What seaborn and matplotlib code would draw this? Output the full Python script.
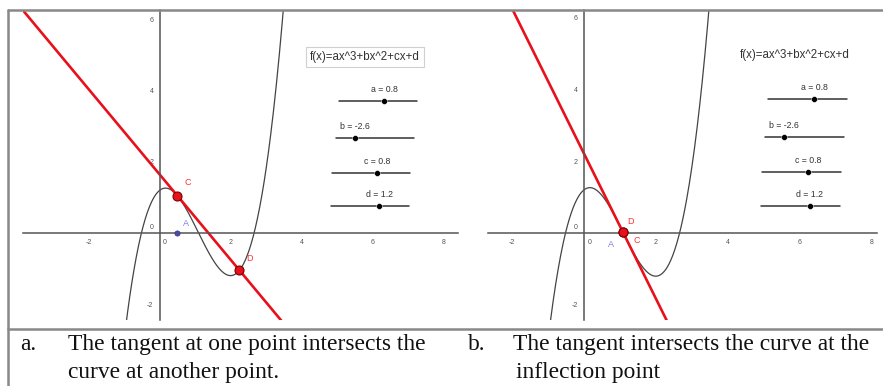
import numpy as np
import pandas as pd
import matplotlib.pyplot as plt
from matplotlib.lines import Line2D
from matplotlib.transforms import ScaledTranslation
import seaborn as sns

sns.set_style('white')
plt.rcParams['font.family'] = ['Liberation Sans', 'DejaVu Sans']
plt.rcParams['axes.unicode_minus'] = False

# slider values of f(x)=ax^3+bx^2+cx+d
coef_names = ['a', 'b', 'c', 'd']
coef_values = [0.8, -2.6, 0.8, 1.2]
slider_range = (-5, 5)

# x of the tangent point in each panel (b: inflection point)
tangent_x = [0.5, 13 / 12]
x_ticks = [-2, 0, 2, 4, 6, 8]
y_ticks = [-2, 0, 2, 4, 6]

captions = [
    ('a.', 'The tangent at one point intersects the', 'curve at another point.'),
    ('b.', 'The tangent intersects the curve at the', 'inflection point'),
]

W, H = 883, 386
fig = plt.figure(figsize=(W / 100, H / 100), dpi=100)


def px_axes(x0, y0, x1, y1):
    return fig.add_axes([x0 / W, 1 - y1 / H, (x1 - x0) / W, (y1 - y0) / H])


def f(x):
    a, b, c, d = coef_values
    return a * x**3 + b * x**2 + c * x + d


def fprime(x):
    a, b, c, d = coef_values
    return 3 * a * x**2 + 2 * b * x + c


# panel layout: pixel box, limits, slider starts, formula pos, label offsets
panels = [
    dict(box=(23, 10, 458, 320), xlim=(-3.85, 8.41), ylim=(-2.45, 6.28),
         slider_x0=[5.06, 4.97, 4.86, 4.83], formula=(4.24, 4.96), boxed=True,
         offs={'C': (5, 8), 'D': (5, 7), 'A': (4, 5)}),
    dict(box=(488, 10, 877, 320), xlim=(-2.67, 8.16), ylim=(-2.42, 6.21),
         slider_x0=[5.13, 5.04, 4.96, 4.93], formula=(4.35, 4.96), boxed=False,
         offs={'C': (8, -8), 'D': (3, 6), 'A': (-11, -10)}),
]
slider_y = [3.72, 2.68, 1.69, 0.76]
slider_len = 2.2

for p, x0 in zip(panels, tangent_x):
    ax = px_axes(*p['box'])
    ax.set_xlim(*p['xlim'])
    ax.set_ylim(*p['ylim'])

    # axes through the origin
    for s in ['top', 'right']:
        ax.spines[s].set_visible(False)
    for s in ['left', 'bottom']:
        ax.spines[s].set_position('zero')
        ax.spines[s].set_color('#555555')
        ax.spines[s].set_linewidth(1.1)
    ax.set_xticks(x_ticks)
    ax.set_yticks(y_ticks)
    ax.tick_params(direction='out', length=2.5, width=0.8, color='#555555',
                   labelsize=5, labelcolor='#555555', pad=2)
    # shift the two "0" labels off the axes, GeoGebra style
    lx = ax.xaxis.get_major_ticks()[1].label1
    lx.set_transform(lx.get_transform() + ScaledTranslation(4 / 72, 0, fig.dpi_scale_trans))
    ly = ax.yaxis.get_major_ticks()[1].label1
    ly.set_transform(ly.get_transform() + ScaledTranslation(0, 5 / 72, fig.dpi_scale_trans))

    # cubic curve
    xs = np.linspace(p['xlim'][0], p['xlim'][1], 600)
    curve = pd.DataFrame({'x': xs, 'y': f(xs)})
    sns.lineplot(data=curve, x='x', y='y', ax=ax, color='#444444', linewidth=0.9,
                 sort=False)

    # tangent line
    m = fprime(x0)
    tang = pd.DataFrame({'x': xs, 'y': f(x0) + m * (xs - x0)})
    sns.lineplot(data=tang, x='x', y='y', ax=ax, color='#e8101a', linewidth=1.9,
                 sort=False)

    # points C (tangency), D (second intersection), A (on x-axis)
    a, b = coef_values[0], coef_values[1]
    x1 = -b / a - 2 * x0
    pts = pd.DataFrame({'name': ['C', 'D'], 'x': [x0, x1], 'y': [f(x0), f(x1)]})
    ptA = pd.DataFrame({'x': [x0], 'y': [0.0]})
    sns.scatterplot(data=ptA, x='x', y='y', ax=ax, color='#4b4ba8', s=14,
                    edgecolor='#33337a', linewidth=0.5, zorder=5)
    sns.scatterplot(data=pts, x='x', y='y', ax=ax, color='#e8101a', s=42,
                    edgecolor='#7a0000', linewidth=0.8, zorder=6)
    for name, px_, py_ in zip(pts['name'], pts['x'], pts['y']):
        ax.annotate(name, (px_, py_), xytext=p['offs'][name], textcoords='offset points',
                    color='#ff3030', fontsize=6.5)
    ax.annotate('A', (x0, 0), xytext=p['offs']['A'], textcoords='offset points',
                color='#8080e0', fontsize=6.5)

    # formula
    fx, fy = p['formula']
    bbox = dict(boxstyle='square,pad=0.35', fc='white', ec='#d0d0d0', lw=0.8) if p['boxed'] else None
    ax.text(fx, fy, 'f(x)=ax^3+bx^2+cx+d', fontsize=8.3, color='#333333',
            va='center', ha='left', bbox=bbox)

    # sliders
    for name, val, sx, sy in zip(coef_names, coef_values, p['slider_x0'], slider_y):
        frac = (val - slider_range[0]) / (slider_range[1] - slider_range[0])
        dot_x = sx + frac * slider_len
        track = pd.DataFrame({'x': [sx, sx + slider_len], 'y': [sy, sy]})
        sns.lineplot(data=track, x='x', y='y', ax=ax, color='#333333', linewidth=1.1)
        sns.scatterplot(x=[dot_x], y=[sy], ax=ax, color='black', s=18, zorder=5)
        ax.text(dot_x, sy + 0.2, f'{name} = {val}', fontsize=6.3, color='#333333',
                ha='center', va='bottom')

    ax.set_xlabel('')
    ax.set_ylabel('')

# table lines
line_kw = dict(color='#888888', linewidth=1.8, transform=fig.transFigure)
fig.add_artist(Line2D([8 / W, 1], [1 - 9.5 / H, 1 - 9.5 / H], **line_kw))
fig.add_artist(Line2D([8 / W, 8 / W], [1 - 9.5 / H, 0], **line_kw))
fig.add_artist(Line2D([8 / W, 1], [1 - 329 / H, 1 - 329 / H], **line_kw))

# captions
cap_x = [(20, 68), (468, 513)]
for (lab, l1, l2), (xl, xt) in zip(captions, cap_x):
    kw = dict(family='Liberation Serif', fontsize=16.9, color='#111111', va='baseline')
    fig.text(xl / W, 1 - 350 / H, lab, **kw)
    fig.text(xt / W, 1 - 350 / H, l1, **kw)
    fig.text((xt + 3 if lab == 'b.' else xt) / W, 1 - 378 / H, l2, **kw)

fig.savefig('out.png', dpi=100)
